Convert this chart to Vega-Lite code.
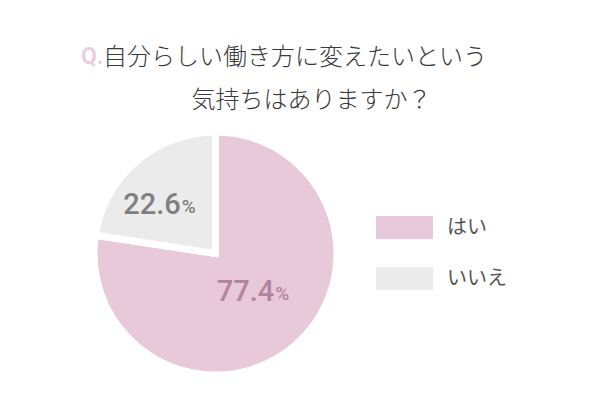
{
  "$schema": "https://vega.github.io/schema/vega-lite/v6.json",
  "width": 243,
  "height": 243,
  "autosize": "none",
  "padding": {"left": 94, "top": 132, "right": 263, "bottom": 25},
  "background": "white",
  "title": {
    "text": "Q.",
    "subtitle": ["ㅤ自分らしい働き方に変えたいという", "ㅤㅤㅤㅤﾠ気持ちはありますか？"],
    "anchor": "start",
    "frame": "group",
    "dx": -13,
    "offset": 5,
    "font": "Roboto",
    "fontSize": 23,
    "fontWeight": "bold",
    "color": "#ead0dc",
    "subtitleFont": "Noto Sans CJK JP",
    "subtitleFontSize": 24,
    "subtitleFontWeight": 300,
    "subtitleColor": "#3a3a3a",
    "subtitleLineHeight": 43,
    "subtitlePadding": -23
  },
  "data": {
    "values": [
      {"answer": "はい", "value": 77.4},
      {"answer": "いいえ", "value": 22.6}
    ]
  },
  "encoding": {
    "theta": {"field": "value", "type": "quantitative", "stack": true},
    "order": {"field": "value", "type": "quantitative", "sort": "descending"}
  },
  "layer": [
    {
      "mark": {"type": "arc", "stroke": "white", "strokeWidth": 7},
      "encoding": {
        "color": {
          "field": "answer",
          "type": "nominal",
          "scale": {"domain": ["はい", "いいえ"], "range": ["#e8c9d9", "#ebebeb"]},
          "legend": {
            "title": null,
            "orient": "none",
            "legendX": 282,
            "legendY": 67,
            "symbolType": "M-1,-0.4H1V0.4H-1Z",
            "symbolSize": 3249,
            "symbolStrokeWidth": 0,
            "labelFont": "Noto Sans CJK JP",
            "labelFontSize": 20,
            "labelColor": "#555555",
            "labelOffset": 14,
            "rowPadding": 11
          }
        }
      }
    },
    {
      "mark": {"type": "text", "radius": 64, "thetaOffset": -0.11, "dx": 12, "dy": -5, "align": "right", "baseline": "middle", "font": "Roboto", "fontSize": 29, "fontWeight": 500},
      "encoding": {
        "text": {"field": "value", "type": "quantitative", "format": ".1f"},
        "color": {"condition": {"test": "datum.answer == 'はい'", "value": "#b3849e"}, "value": "#7f7f7f"}
      }
    },
    {
      "mark": {"type": "text", "radius": 64, "thetaOffset": -0.11, "dx": 13, "dy": -3, "align": "left", "baseline": "middle", "font": "Roboto", "fontSize": 19, "fontWeight": 500},
      "encoding": {
        "text": {"value": "%"},
        "color": {"condition": {"test": "datum.answer == 'はい'", "value": "#b3849e"}, "value": "#7f7f7f"}
      }
    }
  ]
}
